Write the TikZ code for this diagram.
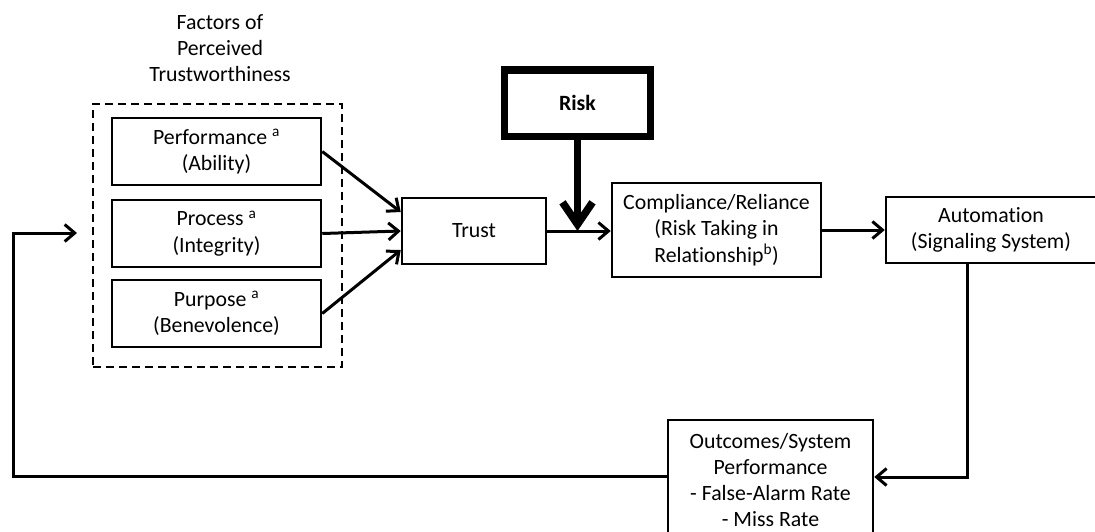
\documentclass[tikz,border=0pt]{standalone}
\usepackage{fontspec}
\setmainfont{Carlito}[Ligatures=NoCommon]
\usetikzlibrary{arrows.meta,calc}

\tikzset{
  box/.style={draw, line width=2.5pt, align=center, inner sep=0pt, fill=white},
  dashbox/.style={draw, line width=2.2pt, dash pattern=on 8pt off 5pt, inner sep=0pt},
  arr/.style={line width=3pt, -{Straight Barb[length=10pt, width=17pt, line width=3pt]}},
  bigarr/.style={line width=7.5pt, -{Straight Barb[length=22pt, width=30pt, line width=7.5pt]}},
}

\begin{document}
\begin{tikzpicture}[x=1pt, y=-1pt, font=\fontsize{21.8}{26.3}\selectfont]
  \clip (0,0) rectangle (1095,531);

  % grouping of the three trust factors
  \node[align=center] (title) at (220,48) {Factors of\\Perceived\\Trustworthiness};
  \node[dashbox, minimum width=249pt, minimum height=263pt] (factors) at (217.5,235.5) {};
  \node[box, minimum width=209pt, minimum height=67pt] (perf) at (216.5,151.5) {Performance \textsuperscript{a}\\(Ability)};
  \node[box, minimum width=209pt, minimum height=67pt] (proc) at (216.5,233.5) {Process \textsuperscript{a}\\(Integrity)};
  \node[box, minimum width=209pt, minimum height=67pt] (purp) at (216.5,313.5) {Purpose \textsuperscript{a}\\(Benevolence)};

  % main chain
  \node[box, minimum width=144pt, minimum height=66pt] (trust) at (474,231) {Trust};
  \node[box, line width=7.5pt, minimum width=146pt, minimum height=66.5pt] (risk) at (577.5,103.25) {\bfseries Risk};
  \node[box, minimum width=209pt, minimum height=94pt] (comp) at (716.5,230) {Compliance/Reliance\\(Risk Taking in\\Relationship\textsuperscript{b})};
  \node[box, minimum width=210pt, minimum height=66pt] (auto) at (991,230) {Automation\\(Signaling System)};
  \node[box, minimum width=205pt, minimum height=120pt] (outc) at (770.5,480) {Outcomes/System\\Performance\\- False-Alarm Rate\\- Miss Rate};

  % factors feed trust
  \draw[arr] (perf.east) -- ([yshift=19pt]trust.west);
  \draw[arr] (proc.east) -- (trust.west);
  \draw[arr] (purp.east) -- ([yshift=-19pt]trust.west);

  % trust leads to compliance, moderated by risk
  \draw[arr] (trust.east) -- (comp.west |- trust.east);
  \draw[bigarr] (risk.south) -- (risk.south |- trust.east);
  \draw[arr] (comp.east) -- (auto.west);

  % automation produces outcomes
  \coordinate (turnA) at (967,477);
  \draw[arr] (turnA |- auto.south) -- (turnA) -- (outc.east |- turnA);

  % feedback loop back to the trust factors
  \coordinate (fbBottom) at (13,476);
  \coordinate (fbTop) at (13,233);
  \coordinate (fbEnd) at (77,233);
  \draw[arr] (outc.west |- fbBottom) -- (fbBottom) -- (fbTop) -- (fbEnd);
\end{tikzpicture}
\end{document}
